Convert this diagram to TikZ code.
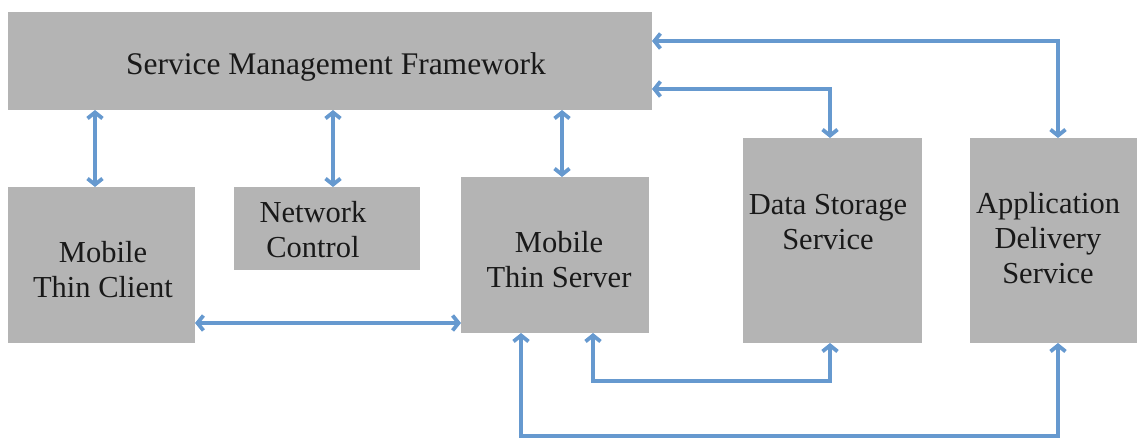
\documentclass[tikz,border=0pt]{standalone}
\usepackage{fontspec}
\setmainfont{Liberation Serif}
\usetikzlibrary{arrows.meta,calc}
\definecolor{boxgray}{RGB}{180,180,180}
\definecolor{arrblue}{RGB}{102,153,207}
\begin{document}
\begin{tikzpicture}[x=1pt,y=-1pt,
  box/.style={fill=boxgray,draw=none,inner sep=0pt,outer sep=0pt,anchor=north west},
  lbl/.style={align=center,font=\fontsize{30.5}{35}\selectfont,inner sep=0pt,text=black!90},
  conn/.style={draw=arrblue,line width=3.8pt,{Straight Barb[length=6pt,width=15pt]}-{Straight Barb[length=6pt,width=15pt]}}]
\useasboundingbox (0,0) rectangle (1137,438);
% boxes
\node[box,minimum width=644pt,minimum height=98pt] (smf) at (8,12) {};
\node[box,minimum width=187pt,minimum height=156pt] (client) at (8,187) {};
\node[box,minimum width=186pt,minimum height=83pt] (net) at (234,187) {};
\node[box,minimum width=188pt,minimum height=156pt] (server) at (461,177) {};
\node[box,minimum width=179pt,minimum height=205pt] (data) at (743,138) {};
\node[box,minimum width=167pt,minimum height=205pt] (app) at (970,138) {};
% labels
\node[lbl] (smf-t) at (336,67) {\fontsize{31.5}{35}\selectfont Service Management Framework};
\node[lbl] (client-t) at (103,270) {Mobile\\Thin Client};
\node[lbl] (net-t) at (313,230) {Network\\Control};
\node[lbl] (server-t) at (559,260) {Mobile\\Thin Server};
\node[lbl] (data-t) at (828,222) {Data Storage\\Service};
\node[lbl] (app-t) at (1048,238) {Application\\Delivery\\Service};
% helper coordinates
\coordinate (c1) at (95,0);
\coordinate (c2) at (333,0);
\coordinate (c3) at (562,0);
\coordinate (h1) at (0,323);
\coordinate (d1) at (830,89);
\coordinate (a1) at (1058,41);
\coordinate (b1) at (593,381);
\coordinate (b2) at (521,436);
% connectors
\draw[conn] (smf.south -| c1) -- (client.north -| c1);
\draw[conn] (smf.south -| c2) -- (net.north -| c2);
\draw[conn] (smf.south -| c3) -- (server.north -| c3);
\draw[conn] (client.east |- h1) -- (server.west |- h1);
\draw[conn] (smf.east |- d1) -| (data.north -| d1);
\draw[conn] (smf.east |- a1) -| (app.north -| a1);
\draw[conn] (server.south -| b1) -- (b1) -- (b1 -| d1) -- (data.south -| d1);
\draw[conn] (server.south -| b2) -- (b2) -- (b2 -| a1) -- (app.south -| a1);
\end{tikzpicture}
\end{document}
